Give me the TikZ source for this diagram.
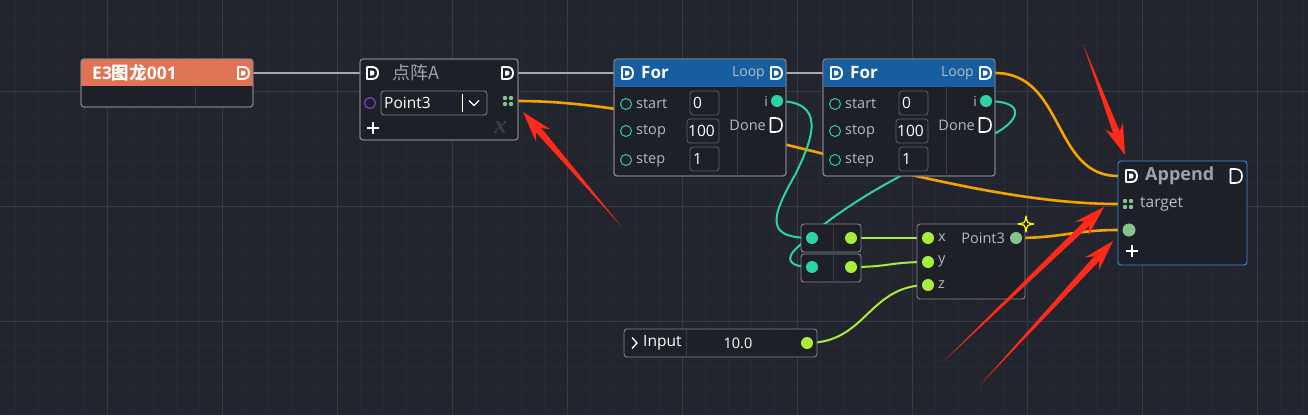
\documentclass[tikz,border=0pt]{standalone}
\usepackage{fontspec}
\setmainfont{Open Sans}
\newfontfamily\cjk{Noto Sans CJK SC}
\newfontfamily\serifx{Liberation Serif}
\usetikzlibrary{calc}
\definecolor{bgc}{HTML}{22252D}
\definecolor{minorg}{HTML}{272A32}
\definecolor{majorg}{HTML}{383B43}
\definecolor{nodebg}{HTML}{1E2027}
\definecolor{nodeline}{HTML}{85888E}
\definecolor{divc}{HTML}{3A3D44}
\definecolor{vboxline}{HTML}{5C5F66}
\definecolor{e3col}{HTML}{E07255}
\definecolor{forblue}{HTML}{175EA0}
\definecolor{appblue}{HTML}{3C8EE0}
\definecolor{labelc}{HTML}{B6BAC0}
\definecolor{titlegrey}{HTML}{9DA2A8}
\definecolor{tealc}{HTML}{2DD3A4}
\definecolor{limec}{HTML}{A8EC3C}
\definecolor{mintc}{HTML}{86C48F}
\definecolor{purplec}{HTML}{7B3FCC}
\definecolor{orangec}{HTML}{F5A300}
\definecolor{execc}{HTML}{A6A9AF}
\definecolor{starc}{HTML}{FFF000}
\definecolor{arrowred}{HTML}{FF2A1A}
\definecolor{targetc}{HTML}{B4BECC}
\definecolor{wmark}{HTML}{3A3D45}
\pgfdeclarelayer{back}
\pgfsetlayers{back,main}
\tikzset{
  nbody/.style={fill=nodebg, draw=nodeline, line width=0.9pt, rounded corners=3pt, inner sep=0pt, outer sep=0pt, anchor=north west},
  lbl/.style={inner sep=0pt, anchor=west, text=labelc, font=\fontsize{14.5}{17}\selectfont},
  rlbl/.style={inner sep=0pt, anchor=east, text=labelc, font=\fontsize{14}{16}\selectfont},
  val/.style={inner sep=0pt, anchor=west, text=white, font=\fontsize{15.5}{18}\selectfont},
  vbox/.style={draw=vboxline, line width=0.8pt, rounded corners=3pt},
  pinring/.style={circle, draw=tealc, line width=1pt, minimum size=11pt, inner sep=0pt},
  tealdot/.style={circle, fill=tealc, minimum size=12pt, inner sep=0pt},
  limedot/.style={circle, fill=limec, minimum size=12pt, inner sep=0pt},
  mintdot/.style={circle, fill=mintc, minimum size=12pt, inner sep=0pt},
  execw/.style={draw=execc, line width=2pt},
  orw/.style={draw=orangec, line width=2.6pt},
  tw/.style={draw=tealc, line width=2pt},
  lw/.style={draw=limec, line width=2pt},
  divline/.style={draw=divc, line width=0.8pt},
  dpin/.pic={
    \draw[white, line width=1.9pt, line join=round] (-5,-6) -- (0,-6) .. controls (4,-6) and (6,-3.5) .. (6,0) .. controls (6,3.5) and (4,6) .. (0,6) -- (-5,6) -- cycle;
    \fill[white] (-2,-2.5) -- (0,-2.5) .. controls (2,-2.5) and (2.5,-1.2) .. (2.5,0) .. controls (2.5,1.2) and (2,2.5) .. (0,2.5) -- (-2,2.5) -- cycle;
  },
  dopen/.pic={
    \draw[white, line width=1.6pt, line join=round] (-5,-7) -- (0,-7) .. controls (4.5,-7) and (6.5,-4) .. (6.5,0) .. controls (6.5,4) and (4.5,7) .. (0,7) -- (-5,7) -- cycle;
  },
  fourdot/.pic={
    \foreach \a/\b in {-3/-3,3/-3,-3/3,3/3} \fill[mintc] (\a,\b) circle[radius=2.2pt];
  },
  plussign/.pic={
    \draw[white, line width=1.3pt] (-6,0) -- (6,0) (0,-6) -- (0,6);
  }
}
\newcommand\nodehead[3]{%
  \begin{scope}
    \clip[rounded corners=3pt] (#1.north west) rectangle (#1.south east);
    \fill[#3] (#1.north west) rectangle ($(#1.north east)+(0,#2)$);
  \end{scope}
  \draw[nodeline, line width=0.9pt, rounded corners=3pt] (#1.north west) rectangle (#1.south east);}
\newcommand\fornode[2]{%
  \begin{scope}[shift={(#2,59)}]
    \node[nbody, minimum width=172pt, minimum height=117pt] (#1) at (0,0) {};
    \nodehead{#1}{28}{forblue}
    \draw[divline] (123,28) -- (123,116.5);
    \pic at (13,14) {dpin};
    \node[inner sep=0pt, anchor=west, text=white, font=\fontsize{17}{20}\selectfont\bfseries] (#1-t) at (27,14) {For};
    \node[rlbl] (#1-looplbl) at (151,14) {Loop};
    \pic at (162,14) {dpin};
    \coordinate (#1-in) at (0,14);
    \coordinate (#1-loop) at (172,14);
    \node[pinring] (#1-r1) at (12,45) {};
    \node[pinring] (#1-r2) at (12,72) {};
    \node[pinring] (#1-r3) at (12,101) {};
    \node[lbl] (#1-l1) at (22,45) {start};
    \node[lbl] (#1-l2) at (22,72) {stop};
    \node[lbl] (#1-l3) at (22,101) {step};
    \draw[vbox] (76,32) rectangle (105,56);
    \draw[vbox] (73,60) rectangle (105,84);
    \draw[vbox] (76,88) rectangle (105,112);
    \node[val] (#1-v1) at (79,44) {0};
    \node[val] (#1-v2) at (74,72) {100};
    \node[val] (#1-v3) at (79,100) {1};
    \node[rlbl] (#1-il) at (154,42) {i};
    \node[tealdot] (#1-i) at (163,42) {};
    \node[inner sep=0pt, anchor=east, text=labelc, font=\fontsize{14.5}{17}\selectfont] (#1-done) at (152,66) {Done};
    \pic at (161.5,66) {dopen};
  \end{scope}}
\newcommand\redarrow[2]{%
  \fill[arrowred] (#1) -- ($($(#2)!24pt!(#1)$)!3.4pt!90:(#2)$) -- ($($(#2)!31pt!(#1)$)!9.5pt!90:(#2)$) -- (#2) -- ($($(#2)!31pt!(#1)$)!9.5pt!-90:(#2)$) -- ($($(#2)!24pt!(#1)$)!3.4pt!-90:(#2)$) -- cycle;}
\begin{document}
\begin{tikzpicture}[x=1pt,y=-1pt]
\useasboundingbox (0,0) rectangle (1308,415);
\begin{pgfonlayer}{back}
  \fill[bgc] (0,0) rectangle (1308,415);
  \foreach \x in {15,38,...,1308} \draw[minorg, line width=0.6pt] (\x,0) -- (\x,415);
  \foreach \y in {22,45,...,415} \draw[minorg, line width=0.6pt] (0,\y) -- (1308,\y);
  \foreach \x in {107,222,...,1308} \draw[majorg, line width=1pt] (\x,0) -- (\x,415);
  \foreach \y in {91,206,321} \draw[majorg, line width=1pt] (0,\y) -- (1308,\y);
\end{pgfonlayer}

% ---------- E3 node
\begin{scope}[shift={(81,59)}]
  \node[nbody, minimum width=172pt, minimum height=48pt] (e3) at (0,0) {};
  \nodehead{e3}{27}{e3col}
  \draw[divline] (114,27.5) -- (114,47.5);
  \node[inner sep=0pt, anchor=west, text=white, font=\fontsize{17.5}{20}\selectfont\bfseries] (e3t) at (11,14) {E3{\cjk\bfseries 图龙}001};
  \pic at (162,14) {dpin};
  \coordinate (e3out) at (172,14);
\end{scope}

% ---------- dianzhen node
\begin{scope}[shift={(360,59)}]
  \node[nbody, minimum width=158pt, minimum height=81pt] (dz) at (0,0) {};
  \node[inner sep=0pt, anchor=west, text=wmark, font=\serifx\itshape\bfseries\fontsize{26}{26}\selectfont] (dzw) at (134,69) {x};
  \draw[nodeline, line width=0.9pt, rounded corners=3pt] (dz.north west) rectangle (dz.south east);
  \pic at (12,14) {dpin};
  \node[inner sep=0pt, anchor=west, text=titlegrey, font=\cjk\fontsize{18}{20}\selectfont] (dzt) at (32,14) {点阵A};
  \pic at (147,14) {dpin};
  \node[circle, draw=purplec, line width=1.2pt, minimum size=11pt, inner sep=0pt] (dzp) at (10,44) {};
  \draw[vbox, draw=nodeline] (21,32) rectangle (127,56);
  \node[val] (dzv) at (24,44) {Point3};
  \draw[white, line width=1pt] (102,35) -- (102,53);
  \draw[white, line width=1.3pt] (109,41.5) -- (114,46.5) -- (119,41.5);
  \pic at (148,42) {fourdot};
  \pic at (13,69) {plussign};
  \coordinate (dzin) at (0,14);
  \coordinate (dzout) at (158,14);
  \coordinate (dzpt) at (158,42);
\end{scope}

% ---------- For nodes
\fornode{fa}{614}
\fornode{fb}{823}

% ---------- Append node
\begin{scope}[shift={(1118,161)}]
  \node[nbody, draw=appblue, minimum width=129pt, minimum height=104pt] (ap) at (0,0) {};
  \pic at (13,15) {dpin};
  \node[inner sep=0pt, anchor=west, text=titlegrey, font=\fontsize{18}{21}\selectfont\bfseries] (apt) at (27,15) {Append};
  \pic at (117.5,15) {dopen};
  \pic at (10,43) {fourdot};
  \node[inner sep=0pt, anchor=west, text=targetc, font=\fontsize{15.5}{18}\selectfont] (aptl) at (22,43) {target};
  \node[mintdot, minimum size=13pt] (apd) at (11,69) {};
  \pic at (14,90) {plussign};
  \coordinate (apin) at (0,15);
  \coordinate (aptg) at (0,43);
  \coordinate (apv) at (0,69);
\end{scope}

% ---------- split nodes
\begin{scope}[shift={(801,224)}]
  \node[nbody, minimum width=60pt, minimum height=28pt] (spa) at (0,0) {};
  \node[nbody, minimum width=60pt, minimum height=28pt] (spb) at (0,30) {};
  \draw[divline] (32,0.5) -- (32,27.5) (32,30.5) -- (32,57.5);
  \node[tealdot] (spa-l) at (11,14) {};
  \node[limedot] (spa-r) at (50,14) {};
  \node[tealdot] (spb-l) at (11,43) {};
  \node[limedot] (spb-r) at (50,43) {};
\end{scope}

% ---------- Point3 node
\begin{scope}[shift={(917,224)}]
  \node[nbody, minimum width=108pt, minimum height=75pt] (pt) at (0,0) {};
  \node[limedot] (pt-x) at (11,14) {};
  \node[limedot] (pt-y) at (11,38) {};
  \node[limedot] (pt-z) at (11,61) {};
  \node[lbl] (pt-xl) at (21,14) {x};
  \node[lbl] (pt-yl) at (21,37) {y};
  \node[lbl] (pt-zl) at (21,61) {z};
  \node[rlbl, font=\fontsize{14.5}{17}\selectfont] (pt-ol) at (88,14) {Point3};
  \node[mintdot] (pt-o) at (99,14) {};
  \draw[starc, line width=1.3pt, line join=round] (109,-8) .. controls (110,-1) .. (117,0) .. controls (110,1) .. (109,8) .. controls (108,1) .. (101,0) .. controls (108,-1) .. (109,-8) -- cycle;
\end{scope}

% ---------- Input node
\begin{scope}[shift={(624,329)}]
  \node[nbody, minimum width=193pt, minimum height=28pt] (inp) at (0,0) {};
  \draw[white, line width=1.3pt] (8,8.5) -- (13,14) -- (8,19.5);
  \node[val] (inp-t) at (19,14) {Input};
  \draw[divline] (62,0.5) -- (62,27.5);
  \node[inner sep=0pt, text=white, font=\fontsize{14.5}{17}\selectfont] (inp-v) at (114,14) {10.0};
  \node[limedot] (inp-o) at (183,14) {};
\end{scope}

% ---------- wires (behind nodes)
\begin{pgfonlayer}{back}
  \draw[execw] (e3out) -- (dzin);
  \draw[execw] (dzout) -- (fa-in);
  \draw[execw] (fa-loop) -- (fb-in);
  \draw[orw] (dzpt) .. controls (700,101) and (936,204) .. (aptg);
  \draw[orw] (fb-loop) .. controls +(70,0) and +(-66,0) .. (apin);
  \draw[orw] (pt-o.center) .. controls +(45,0) and +(-43,0) .. (apv);
  \draw[tw] (fa-i.center) .. controls +(48,0) and (815,135) .. (795,175) .. controls (768,222) and (768,238) .. (spa-l.center);
  \draw[tw] (fb-i.center) .. controls +(49,0) and (1015,128) .. (980,140) .. controls (900,170) and (830,215) .. (800,245) .. controls (782,260) and (790,267) .. (spb-l.center);
  \draw[lw] (spa-r.center) -- (pt-x.center);
  \draw[lw] (spb-r.center) .. controls +(40,0) and +(-40,0) .. (pt-y.center);
  \draw[lw] (inp-o.center) .. controls +(60,0) and +(-60,0) .. (pt-z.center);
\end{pgfonlayer}

% ---------- red annotation arrows
\coordinate (ra1t) at (622,227);
\coordinate (ra1h) at (523,112);
\coordinate (ra2t) at (1083,44);
\coordinate (ra2h) at (1125,155);
\coordinate (ra3t) at (943,362);
\coordinate (ra3h) at (1104,207);
\coordinate (ra4t) at (980,385);
\coordinate (ra4h) at (1113,241);
\redarrow{ra1t}{ra1h}
\redarrow{ra2t}{ra2h}
\redarrow{ra3t}{ra3h}
\redarrow{ra4t}{ra4h}
\end{tikzpicture}
\end{document}
